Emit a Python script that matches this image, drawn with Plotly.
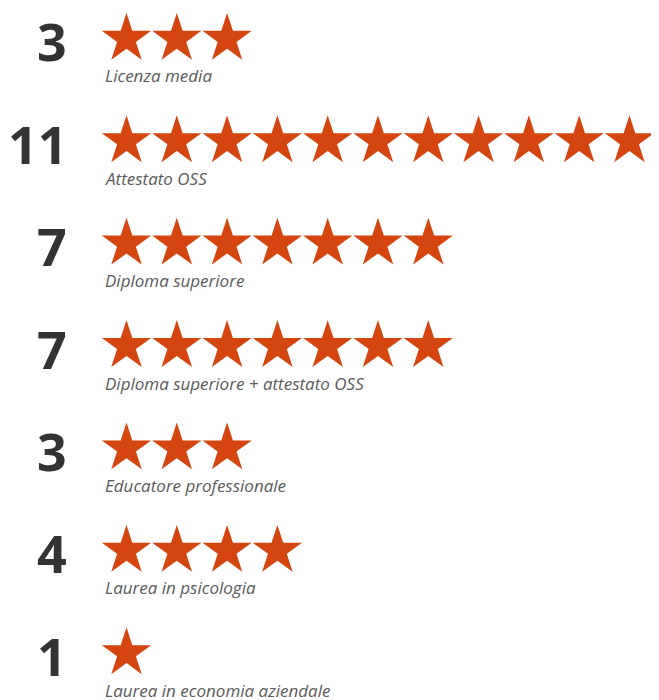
import plotly.graph_objects as go

categories = [
    "Licenza media",
    "Attestato OSS",
    "Diploma superiore",
    "Diploma superiore + attestato OSS",
    "Educatore professionale",
    "Laurea in psicologia",
    "Laurea in economia aziendale",
]
counts = [3, 11, 7, 7, 3, 4, 1]

STAR_COLOR = "#D4450F"

star_x, star_y = [], []
for r, n in enumerate(counts):
    for i in range(1, n + 1):
        star_x.append(i)
        star_y.append(r)

fig = go.Figure()
fig.add_trace(go.Scatter(
    x=star_x, y=star_y, mode="markers",
    marker=dict(symbol="star", size=37, color=STAR_COLOR, line=dict(width=0)),
    hoverinfo="skip", showlegend=False,
))

annotations = []
for r, (cat, n) in enumerate(zip(categories, counts)):
    annotations.append(dict(
        x=-0.14, y=r, xref="x", yref="y", text=f"<b>{n}</b>",
        showarrow=False, xanchor="right", yanchor="middle", yshift=-2,
        font=dict(family="Open Sans", size=52, color="#333333"),
    ))
    annotations.append(dict(
        x=0.53, y=r, xref="x", yref="y", text=f"<i>{cat}</i>",
        showarrow=False, xanchor="left", yanchor="middle", yshift=-37,
        font=dict(family="Open Sans", size=17, color="#5a5a5a"),
    ))

fig.update_layout(
    width=651, height=692,
    margin=dict(l=0, r=0, t=0, b=0),
    paper_bgcolor="white", plot_bgcolor="white",
    xaxis=dict(range=[-1.356, 11.587], visible=False, fixedrange=True),
    yaxis=dict(range=[6.457, -0.301], visible=False, fixedrange=True),
    annotations=annotations,
)
fig.write_html("out.html")
